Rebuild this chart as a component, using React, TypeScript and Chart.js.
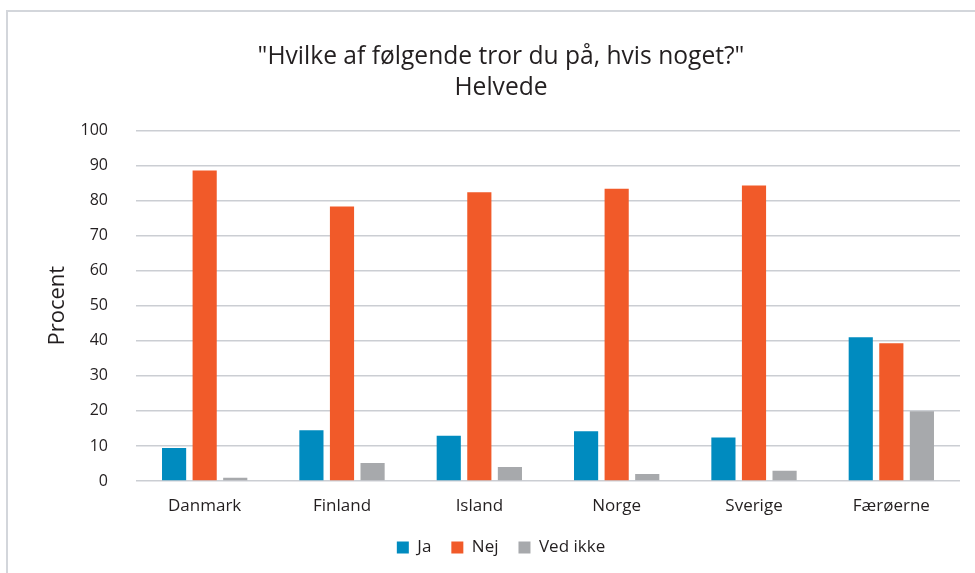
import React, { useEffect, useRef } from "react";
import { Chart, registerables } from "chart.js";

Chart.register(...registerables);

const categories = ["Danmark", "Finland", "Island", "Norge", "Sverige", "Færøerne"];
const jaValues = [9.4, 14.5, 12.9, 14.2, 12.4, 41.0];
const nejValues = [88.6, 78.3, 82.4, 83.4, 84.3, 39.3];
const vedIkkeValues = [0.9, 5.1, 4.0, 2.0, 2.9, 19.9];
const seriesNames = ["Ja", "Nej", "Ved ikke"];
const titleLines = ['"Hvilke af følgende tror du på, hvis noget?"', "Helvede"];
const yAxisTitle = "Procent";

const FONT = "'Open Sans', sans-serif";
const TEXT = "#231F20";

export default function App() {
  const ref = useRef<HTMLCanvasElement | null>(null);

  useEffect(() => {
    if (!ref.current) return;
    const chart = new Chart(ref.current, {
      type: "bar",
      data: {
        labels: categories,
        datasets: [
          { label: seriesNames[0], data: jaValues, backgroundColor: "#008BBF" },
          { label: seriesNames[1], data: nejValues, backgroundColor: "#F15A29" },
          { label: seriesNames[2], data: vedIkkeValues, backgroundColor: "#A7A9AC" },
        ],
      },
      options: {
        responsive: false,
        animation: false,
        layout: { padding: { left: 42, right: 15, top: 0, bottom: 7 } },
        datasets: {
          bar: { categoryPercentage: 0.668, barPercentage: 0.79 },
        },
        plugins: {
          title: {
            display: true,
            text: titleLines,
            color: TEXT,
            font: { family: FONT, size: 24.6, weight: "normal", lineHeight: 1.27 },
            padding: { top: 41, bottom: 27 },
          },
          legend: {
            display: true,
            position: "bottom",
            labels: {
              color: TEXT,
              font: { family: FONT, size: 17 },
              boxWidth: 12,
              boxHeight: 12,
              padding: 20,
            },
          },
          tooltip: { enabled: false },
        },
        scales: {
          x: {
            grid: { display: false, drawTicks: false },
            border: { display: false },
            ticks: { color: TEXT, font: { family: FONT, size: 17 }, padding: 15 },
            afterFit: (scale: any) => {
              scale.height = 38;
            },
          },
          y: {
            min: 0,
            max: 100,
            grid: { color: "#CBCED3", lineWidth: 1.5, drawTicks: false },
            border: { display: false },
            ticks: { stepSize: 10, color: TEXT, font: { family: FONT, size: 16 }, padding: 28 },
            title: {
              display: true,
              text: yAxisTitle,
              color: TEXT,
              font: { family: FONT, size: 22 },
              padding: { top: 3, bottom: 0 },
            },
            afterFit: (scale: any) => {
              scale.width = 94;
            },
          },
        },
      },
    });
    return () => chart.destroy();
  }, []);

  return (
    <div style={{ position: "fixed", left: 0, top: 0, width: 975, height: 573, background: "#fff" }}>
      <div
        style={{
          position: "absolute",
          left: 6,
          top: 10,
          right: 0,
          bottom: 0,
          borderLeft: "2px solid #D3D6DB",
          borderTop: "2px solid #D3D6DB",
        }}
      />
      <canvas ref={ref} width={975} height={573} style={{ position: "absolute", left: 0, top: 0 }} />
    </div>
  );
}
